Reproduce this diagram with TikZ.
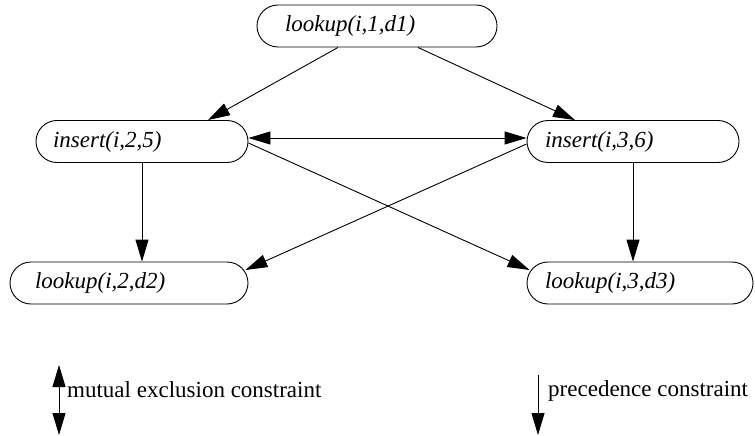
\documentclass[tikz,border=0pt]{standalone}
\usepackage{fontspec}
\setmainfont{Liberation Serif}
\usetikzlibrary{arrows.meta}
\begin{document}
\begin{tikzpicture}[x=1pt,y=-1pt,
  opbox/.style={draw, line width=0.9pt, rounded corners=21pt, minimum height=42pt,
    inner ysep=0pt, align=left, font=\fontsize{23}{27}\selectfont\itshape},
  conn/.style={line width=0.9pt, -{Triangle[length=22pt,width=13pt]}},
  biconn/.style={line width=0.9pt, {Triangle[length=22pt,width=13pt]}-{Triangle[length=22pt,width=13pt]}},
  legtext/.style={anchor=base west, inner sep=0pt, font=\fontsize{23}{27}\selectfont}]
\useasboundingbox (0,0) rectangle (755,436);

\node[opbox, inner xsep=28pt, text width=184pt] (top) at (377,26) {lookup(i,1,d1)};
\node[opbox, inner xsep=17pt, text width=178pt] (ins25) at (142,141.5) {insert(i,2,5)};
\node[opbox, inner xsep=18pt, text width=176pt] (ins36) at (633,141.5) {insert(i,3,6)};
\node[opbox, inner xsep=25pt, text width=188pt] (lk2) at (129,283) {lookup(i,2,d2)};
\node[opbox, inner xsep=18pt, text width=190pt] (lk3) at (640,283) {lookup(i,3,d3)};

\draw[conn] ([xshift=-39pt]top.south) -- ([xshift=66pt]ins25.north);
\draw[conn] ([xshift=41pt]top.south) -- ([xshift=-58pt]ins36.north);
\draw[biconn] ([yshift=3.5pt]ins25.east) -- ([yshift=3.5pt]ins36.west);
\draw[conn] ([yshift=-1.5pt]ins25.east) -- ([shift={(3pt,13pt)}]lk3.west);
\draw[conn] ([yshift=-2.5pt]ins36.west) -- ([shift={(-3pt,13pt)}]lk2.east);
\draw[conn] (ins25.south) -- (ins25.south |- lk2.north);
\draw[conn] (ins36.south) -- (ins36.south |- lk3.north);

\coordinate (mA) at (59,365);
\coordinate (mB) at (59,435);
\draw[biconn] (mA) -- (mB);
\node[legtext] (mtext) at (67,397) {mutual exclusion constraint};

\coordinate (pA) at (538,375);
\coordinate (pB) at (538,435);
\draw[conn] (pA) -- (pB);
\node[legtext] (ptext) at (548,396) {precedence constraint};
\end{tikzpicture}
\end{document}
